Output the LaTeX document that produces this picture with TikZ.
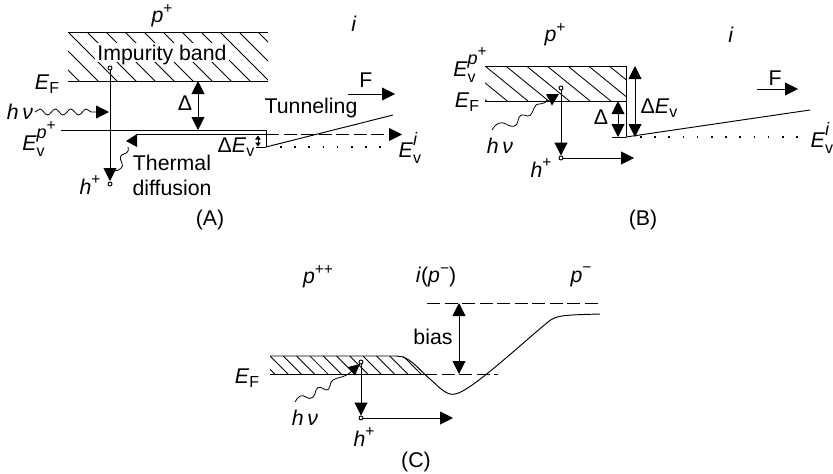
\documentclass[tikz,border=0pt]{standalone}
\usepackage{fontspec}
\setmainfont{Liberation Sans}
\usetikzlibrary{arrows.meta,decorations.pathmorphing,calc}
\newcommand{\Evsym}[1]{\textit{E}\makebox[0pt][l]{\raisebox{-.26em}{\fontsize{16}{16}\selectfont v}}\raisebox{.56em}{\fontsize{18}{18}\selectfont #1}}
\newcommand{\sups}[1]{\raisebox{.44em}{\fontsize{15.5}{15.5}\selectfont #1}}
\newcommand{\subs}[1]{\raisebox{-.2em}{\fontsize{16}{16}\selectfont #1}}
\tikzset{
 x=1pt,y=-1pt,
 lab/.style={inner sep=0pt,font=\fontsize{21.3}{24}\selectfont},
 line/.style={line width=0.95pt},
 bigarrow/.style={line width=0.95pt,-{Triangle[length=13pt,width=13pt]}},
 dblarrow/.style={line width=0.95pt,{Triangle[length=13pt,width=13pt]}-{Triangle[length=13pt,width=13pt]}},
 smalldbl/.style={line width=0.9pt,{Triangle[length=4pt,width=5.5pt]}-{Triangle[length=4pt,width=5.5pt]}},
 dashline/.style={line width=0.95pt,dash pattern=on 13pt off 4.5pt},
 dotline/.style={line width=1.6pt,dash pattern=on 1.6pt off 12.6pt},
 hatchline/.style={line width=0.85pt},
 wave/.style={line width=0.8pt},
 wavy/.style={line width=0.8pt,decorate,decoration={snake,segment length=15.5pt,amplitude=3pt,post length=0pt}},
 dotnode/.style={circle,draw,fill=white,line width=0.9pt,inner sep=0pt,minimum size=4pt},
}
\begin{document}
\begin{tikzpicture}
\useasboundingbox (0,0) rectangle (833,474);
% ---------- (A)
\begin{scope}
\clip (68,32) rectangle (268,81);
\foreach \i in {-3,...,11} \draw[hatchline] ({68+\i*19-4},28) -- ++(60,60);
\end{scope}
\fill[white] (95,43) rectangle (229,62);
\draw[line] (68,32) -- (268,32);
\draw[line] (68,81) -- (268,81);
\node[lab] (impur) at (162,54.5) {Impurity band};
\node[lab] (pa) at (162,16) {\textit{p}\sups{+}};
\node[lab] (ia) at (354,24) {\textit{i}};
\node[lab] (efa) at (47,84) {\textit{E}\subs{F}};
\node[lab] (hna) at (20,112) {\textit{h\,ν}};
\node[lab] (deltaa) at (185,103) {Δ};
\node[lab] (eva) at (39,139) {\Evsym{\textit{p}\sups{+}}};
\node[lab] (evia) at (408,148) {\Evsym{\textit{i}}};
\node[lab] (dea) at (236,147) {Δ\textit{E}\subs{v}};
\node[lab] (tun) at (311,108) {Tunneling};
\node[lab] (fa) at (366,80) {F};
\node[lab] (th) at (172,163) {Thermal};
\node[lab] (dif) at (172,188) {diffusion};
\node[lab] (hpa) at (90,185) {\textit{h}\sups{+}};
\node[lab] (capa) at (210,220) {(A)};
\node[dotnode] (c1a) at (110,68) {};
\node[dotnode] (c2a) at (110,184) {};
\coordinate (tipa) at (110,181);
\draw[bigarrow] (c1a) -- (tipa);
\coordinate (wa1) at (35,112); \coordinate (wa2) at (97,112); \coordinate (wa3) at (109,112);
\draw[wavy] (wa1) -- (wa2);
\draw[bigarrow] (wa2) -- (wa3);
\coordinate (da1) at (198,81); \coordinate (da2) at (198,130);
\draw[dblarrow] (da1) -- (da2);
\coordinate (ea1) at (61,130); \coordinate (ea2) at (266,130); \coordinate (ea3) at (266,147);
\draw[line] (ea1) -- (ea2) -- (ea3);
\coordinate (ta1) at (266,134.5); \coordinate (ta2) at (136,134.5);
\draw[line] (ta1) -- (ta2);
\coordinate (ta3) at (402,134.5);
\draw[dashline,-{Triangle[length=13pt,width=13pt]}] (ta1) -- (ta3);
\coordinate (sla) at (393,115);
\draw[line] (ea3) -- (sla);
\draw[dotline] (280,147) -- (385,147);
\draw[line] (256,147) -- (ea3);
\draw[smalldbl] (258,135.5) -- (258,146.5);
\coordinate (fa1) at (348,94); \coordinate (fa2) at (395,94);
\draw[bigarrow] (fa1) -- (fa2);
\draw[wave] (113,171) .. controls (120,171) and (124,167) .. (122,163) .. controls (119,158) and (120,155) .. (124,154) .. controls (128,153) and (129,150) .. (128,147);
\fill (126,141) -- (137,134) -- (137,147) -- cycle;
% ---------- (B)
\begin{scope}
\clip (485,66) rectangle (626,101);
\foreach \i in {-3,...,9} \draw[hatchline] ({485+\i*20.7},66) -- ++(43,35);
\end{scope}
\draw[line] (485,66) -- (626,66);
\draw[line] (485,101) -- (626,101);
\node[lab] (pb) at (555,35) {\textit{p}\sups{+}};
\node[lab] (ib) at (731,35) {\textit{i}};
\node[lab] (evb) at (470,65) {\Evsym{\textit{p}\sups{+}}};
\node[lab] (efb) at (467,102) {\textit{E}\subs{F}};
\node[lab] (hnb) at (500,146) {\textit{h\,ν}};
\node[lab] (hpb) at (541,168) {\textit{h}\sups{+}};
\node[lab] (deb) at (659,108) {Δ\textit{E}\subs{v}};
\node[lab] (deltab) at (601,117) {Δ};
\node[lab] (fb) at (775,78) {F};
\node[lab] (evib) at (820,138) {\Evsym{\textit{i}}};
\node[lab] (capb) at (643,220) {(B)};
\node[dotnode] (c1b) at (561,88) {};
\node[dotnode] (c2b) at (561,158) {};
\draw[bigarrow] (c1b) -- (c2b);
\coordinate (ab1) at (634,158);
\draw[bigarrow] (c2b) -- (ab1);
\coordinate (vb1) at (626,66); \coordinate (vb2) at (626,137);
\draw[line] (vb1) -- (vb2);
\coordinate (db1) at (618,101); \coordinate (db2) at (618,137);
\draw[dblarrow] (db1) -- (db2);
\draw[line] (612,137) -- (vb2);
\coordinate (eb1) at (635,66); \coordinate (eb2) at (635,137);
\draw[dblarrow] (eb1) -- (eb2);
\coordinate (sb) at (810,110);
\draw[line] (vb2) -- (sb);
\draw[dotline] (640,137) -- (805,137);
\coordinate (fb1) at (757,89); \coordinate (fb2) at (798,89);
\draw[bigarrow] (fb1) -- (fb2);
\coordinate (wb1) at (492,130); \coordinate (wb2) at (547,100);
\draw[wave] (wb1) .. controls (496,123) and (501,121) .. (506,124) .. controls (512,128) and (517,127) .. (518,121) .. controls (519,114) and (523,114) .. (527,116) .. controls (532,118) and (533,108) .. (536,105) .. controls (539,103) and (545,105) .. (wb2);
\fill (546,94) -- (559,94) -- (552,105.5) -- cycle;
% ---------- (C)
\begin{scope}
\clip (270,356) -- (400,356) .. controls (408,356) and (412,362) .. (420,368) -- (430,374) -- (270,374) -- cycle;
\foreach \i in {-2,...,11} \draw[hatchline] ({270+\i*13.3},356) -- ++(18,18);
\end{scope}
\coordinate (c1) at (270,356); \coordinate (c2) at (600,314);
\draw[line] (c1) -- (396,356) .. controls (410,356) and (417,368) .. (430,379)
  .. controls (440,388) and (447,396) .. (455,394) .. controls (470,392) and (520,345) .. (548,322)
  .. controls (556,315) and (565,315) .. (c2);
\coordinate (efc1) at (270,374); \coordinate (efc2) at (437,374); \coordinate (efc3) at (498,374);
\draw[line] (efc1) -- (efc2);
\draw[dashline] (efc2) ++(4.5,0) -- (efc3);
\coordinate (tc1) at (427,303); \coordinate (tc2) at (601,303);
\draw[dashline] (tc1) -- (tc2);
\coordinate (bc1) at (459,303); \coordinate (bc2) at (459,374);
\draw[dblarrow] (bc1) -- (bc2);
\node[lab] (pc) at (318,277) {\textit{p}\sups{++}};
\node[lab] (ic) at (436,277) {\textit{i}(\textit{p}\sups{−})};
\node[lab] (pmc) at (581,277) {\textit{p}\sups{−}};
\node[lab] (bias) at (433,337) {bias};
\node[lab] (efc) at (247,378) {\textit{E}\subs{F}};
\node[lab] (hnc) at (305,418) {\textit{h\,ν}};
\node[lab] (hpc) at (364,437) {\textit{h}\sups{+}};
\node[lab] (capc) at (416,462) {(C)};
\node[dotnode] (c1c) at (361,362) {};
\node[dotnode] (c2c) at (361,418) {};
\draw[bigarrow] (c1c) -- (c2c);
\coordinate (ac) at (453,418);
\draw[bigarrow] (c2c) -- (ac);
\coordinate (wc1) at (295,402); \coordinate (wc2) at (352,371);
\draw[wave] (wc1) .. controls (298,396) and (302,394) .. (306,397) .. controls (312,401) and (315,396) .. (316,390) .. controls (318,385) and (322,388) .. (326,390) .. controls (331,391) and (329,382) .. (333,380) .. controls (337,377) and (345,378) .. (wc2);
\fill (348,367) -- (360,364) -- (355,375.5) -- cycle;
\end{tikzpicture}
\end{document}
